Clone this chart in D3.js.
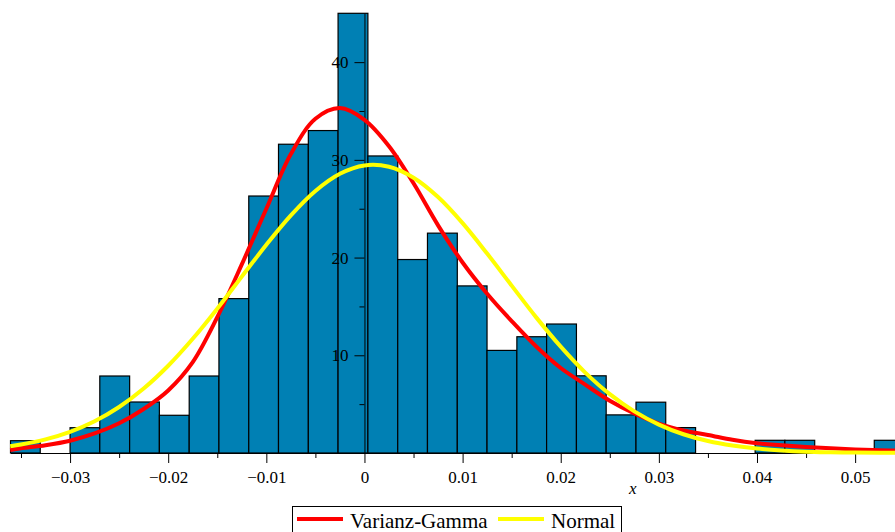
<!DOCTYPE html>
<html>
<head>
<meta charset="utf-8">
<script src="https://cdn.jsdelivr.net/npm/d3@7"></script>
<style>
  body { margin: 0; background: #fff; }
  svg { display: block; font-family: "Liberation Serif", "Times New Roman", serif; }
</style>
</head>
<body>
<svg id="chart"></svg>
<script>
// histogram: bin edges and bar heights (density)
const binEdges = [-0.03607, -0.03304, -0.03000, -0.02697, -0.02393, -0.02090, -0.01786, -0.01483,
  -0.01179, -0.00876, -0.00572, -0.00269, 0.00035, 0.00339, 0.00642, 0.00946, 0.01249, 0.01553,
  0.01856, 0.02160, 0.02463, 0.02767, 0.03070, 0.03374, 0.03677, 0.03981, 0.04284, 0.04588,
  0.04891, 0.05195, 0.05498];
const binHeights = [1.26, 0, 2.59, 7.88, 5.22, 3.86, 7.88, 15.8, 26.3, 31.6, 33.0, 45.0, 30.4, 19.8,
  22.5, 17.1, 10.5, 11.9, 13.2, 7.9, 3.9, 5.2, 2.6, 0, 0, 1.3, 1.3, 0, 0, 1.3];

// fitted densities
const curveX = [-0.0361, -0.035, -0.0325, -0.03, -0.0275, -0.025, -0.0225, -0.02, -0.0175, -0.015,
  -0.0125, -0.01, -0.0075, -0.005, -0.0025, 0, 0.0025, 0.005, 0.0075, 0.01, 0.0125, 0.015, 0.0175,
  0.02, 0.0225, 0.025, 0.0275, 0.03, 0.0325, 0.035, 0.0375, 0.04, 0.0425, 0.045, 0.0475, 0.05,
  0.0525, 0.055];
const vgDensity = [0.30, 0.48, 0.80, 1.26, 2.00, 3.04, 4.50, 6.40, 9.30, 13.9, 19.3, 25.0, 30.6,
  34.2, 35.3, 34.1, 31.4, 27.6, 23.3, 19.5, 16.3, 13.5, 10.9, 8.7, 7.0, 5.35, 4.05, 3.0, 2.3, 1.85,
  1.35, 1.0, 0.8, 0.62, 0.48, 0.37, 0.29, 0.22];
const normalDensity = [0.70, 0.87, 1.40, 2.17, 3.25, 4.71, 6.60, 8.93, 11.69, 14.77, 18.05, 21.31,
  24.32, 26.82, 28.58, 29.43, 29.29, 28.17, 26.19, 23.52, 20.41, 17.13, 13.88, 10.88, 8.23, 6.02,
  4.26, 2.91, 1.92, 1.23, 0.76, 0.45, 0.26, 0.14, 0.08, 0.04, 0.02, 0.01];

const xTicks = [-0.03, -0.02, -0.01, 0, 0.01, 0.02, 0.03, 0.04, 0.05];
const xMinorTicks = [-0.035, -0.025, -0.015, -0.005, 0.005, 0.015, 0.025, 0.035, 0.045];
const yTicks = [10, 20, 30, 40];
const yMinorTicks = [5, 15, 25, 35];

const seriesNames = ["Varianz-Gamma", "Normal"];
const seriesColors = ["#ff0000", "#ffff00"];

const width = 895, height = 532;

const svg = d3.select("#chart")
  .attr("width", width)
  .attr("height", height);

const x = d3.scaleLinear()
  .domain([binEdges[0], binEdges[binEdges.length - 1]])
  .range([10.5, 904]);

const y = d3.scaleLinear()
  .domain([0, 45])
  .range([453, 13.3]);

// bars
const bins = binHeights.map((h, i) => ({x0: binEdges[i], x1: binEdges[i + 1], h: h}));

svg.append("g")
  .selectAll("rect")
  .data(bins.filter(d => d.h > 0))
  .join("rect")
    .attr("x", d => x(d.x0))
    .attr("y", d => y(d.h))
    .attr("width", d => x(d.x1) - x(d.x0))
    .attr("height", d => y(0) - y(d.h))
    .attr("fill", "#0080b4")
    .attr("stroke", "#000")
    .attr("stroke-width", 1.2);

// x axis
const xAxisG = svg.append("g")
  .attr("transform", `translate(0,${y(0)})`);

xAxisG.call(d3.axisBottom(x)
  .tickValues(xTicks)
  .tickSize(10)
  .tickSizeOuter(0)
  .tickPadding(8)
  .tickFormat(d => d === 0 ? "0" : d3.format(".2f")(d)));

xAxisG.append("g").call(d3.axisBottom(x)
  .tickValues(xMinorTicks)
  .tickSize(5)
  .tickFormat(""))
  .select(".domain").remove();

// y axis sits at x = 0
const yAxisG = svg.append("g")
  .attr("transform", `translate(${x(0)},0)`);

yAxisG.call(d3.axisLeft(y)
  .tickValues(yTicks)
  .tickSize(10)
  .tickSizeOuter(0)
  .tickPadding(6));

yAxisG.append("g").call(d3.axisLeft(y)
  .tickValues(yMinorTicks)
  .tickSize(5)
  .tickFormat(""))
  .select(".domain").remove();

svg.selectAll(".tick text")
  .attr("font-family", "Liberation Serif, serif")
  .attr("font-size", 17)
  .attr("fill", "#000");
svg.selectAll(".domain, .tick line")
  .attr("stroke", "#000");

// curves
const line = d3.line()
  .x(d => x(d[0]))
  .y(d => y(d[1]))
  .curve(d3.curveCatmullRom.alpha(0.5));

[vgDensity, normalDensity].forEach((vals, i) => {
  svg.append("path")
    .datum(curveX.map((v, j) => [v, vals[j]]))
    .attr("d", line)
    .attr("fill", "none")
    .attr("stroke", seriesColors[i])
    .attr("stroke-width", 4)
    .attr("stroke-linejoin", "round");
});

// axis title
svg.append("text")
  .attr("x", 629)
  .attr("y", 494)
  .attr("font-size", 17)
  .attr("font-style", "italic")
  .text("x");

// legend
const legend = svg.append("g");
legend.append("rect")
  .attr("x", 292.5)
  .attr("y", 506.5)
  .attr("width", 329)
  .attr("height", 40)
  .attr("fill", "#fff")
  .attr("stroke", "#000");

const legendPos = [{lx: 297, tx: 350}, {lx: 498, tx: 551}];
seriesNames.forEach((name, i) => {
  legend.append("line")
    .attr("x1", legendPos[i].lx)
    .attr("x2", legendPos[i].lx + 46)
    .attr("y1", 519)
    .attr("y2", 519)
    .attr("stroke", seriesColors[i])
    .attr("stroke-width", 4);
  legend.append("text")
    .attr("x", legendPos[i].tx)
    .attr("y", 528)
    .attr("font-size", 21)
    .text(name);
});
</script>
</body>
</html>
